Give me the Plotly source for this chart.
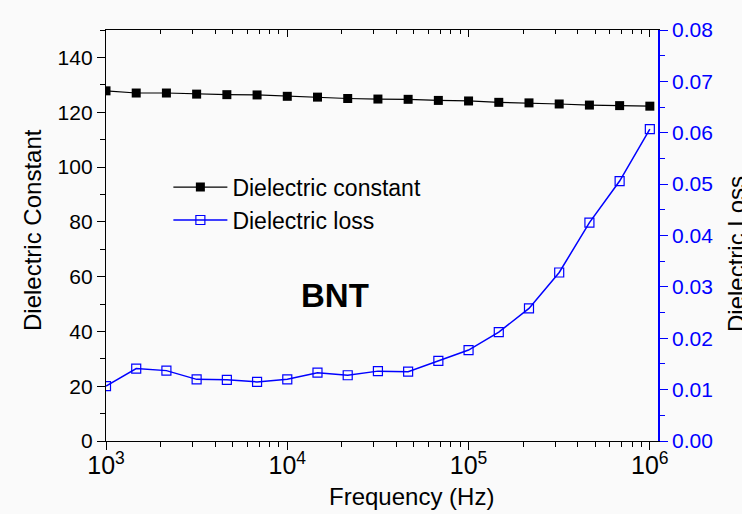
import plotly.graph_objects as go

# ---- data ----
freq_hz = [1000, 1468, 2154, 3162, 4642, 6813, 10000, 14678, 21544, 31623,
           46416, 68129, 100000, 146780, 215440, 316230, 464160, 681290, 1000000]
dielectric_constant = [127.8, 127.0, 127.0, 126.6, 126.4, 126.3, 125.8, 125.5, 125.0, 124.8,
                       124.7, 124.3, 124.1, 123.6, 123.4, 123.0, 122.6, 122.4, 122.2]
dielectric_loss = [0.0107, 0.0141, 0.0137, 0.0120, 0.0119, 0.0115, 0.0120, 0.0133, 0.0128, 0.0136,
                   0.0135, 0.0156, 0.0177, 0.0212, 0.0258, 0.0328, 0.0425, 0.0506, 0.0607]

x_title = "Frequency (Hz)"
y1_title = "Dielectric Constant"
y2_title = "Dielectric Loss"
sample_label = "BNT"

FONT = "Arial, Liberation Sans, sans-serif"
BLUE = "#0000ff"
BG = "#fafafa"

fig = go.Figure()
fig.add_trace(go.Scatter(
    x=freq_hz, y=dielectric_constant, name="Dielectric constant",
    mode="lines+markers", line=dict(color="black", width=1.2),
    marker=dict(symbol="square", size=9, color="black"),
    xaxis="x", yaxis="y"))
fig.add_trace(go.Scatter(
    x=freq_hz, y=dielectric_loss, name="Dielectric loss",
    mode="lines+markers", line=dict(color=BLUE, width=1.5),
    marker=dict(symbol="square-open", size=9, color=BLUE, line=dict(width=1.2)),
    xaxis="x", yaxis="y2"))
# trace that activates the top (mirror) axis; drawn invisibly
fig.add_trace(go.Scatter(x=freq_hz, y=dielectric_constant, mode="lines",
                         line=dict(color="rgba(0,0,0,0)"), showlegend=False, hoverinfo="skip",
                         xaxis="x2", yaxis="y"))

xrange = [3, 6.045]
tk = dict(tickwidth=1.4, tickcolor="black")
fig.update_layout(
    width=742, height=514,
    margin=dict(l=106, r=84, t=30, b=73, autoexpand=False),
    paper_bgcolor=BG, plot_bgcolor=BG,
    font=dict(family=FONT, size=21, color="black"),
    showlegend=True,
    legend=dict(x=0.113, y=0.67, xanchor="left", yanchor="top",
                bgcolor="rgba(0,0,0,0)", font=dict(size=23), itemwidth=54,
                tracegroupgap=0),
    xaxis=dict(type="log", range=xrange, dtick=1, exponentformat="power", automargin=False,
               tickfont=dict(size=20), ticklabelstandoff=-5,
               showline=True, linecolor="black", linewidth=1.3,
               ticks="outside", ticklen=8, **tk,
               minor=dict(ticks="outside", ticklen=5, showgrid=False, **tk),
               showgrid=False, zeroline=False),
    xaxis2=dict(type="log", range=xrange, dtick=1, overlaying="x", side="top", anchor="y",
                automargin=False,
                showline=True, linecolor="black", linewidth=1.3,
                ticks="inside", ticklen=7, **tk,
                minor=dict(ticks="inside", ticklen=4, showgrid=False, **tk),
                showticklabels=False, showgrid=False, zeroline=False),
    yaxis=dict(range=[0, 150], dtick=20, tick0=0, automargin=False,
               showline=True, linecolor="black", linewidth=1.3,
               ticks="outside", ticklen=8, **tk,
               minor=dict(ticks="outside", ticklen=5, dtick=10, tick0=0, showgrid=False, **tk),
               showgrid=False, zeroline=False),
    yaxis2=dict(range=[0, 0.08], dtick=0.01, tick0=0, overlaying="y", side="right", anchor="x",
                tickformat=".2f", automargin=False,
                showline=True, linecolor=BLUE, linewidth=1.6,
                ticks="outside", ticklen=8, tickwidth=1.4, tickcolor=BLUE,
                minor=dict(ticks="outside", ticklen=5, dtick=0.005, tick0=0, tickwidth=1.4,
                           tickcolor=BLUE, showgrid=False),
                tickfont=dict(color=BLUE),
                showgrid=False, zeroline=False),
    annotations=[
        dict(text=x_title, xref="paper", yref="paper", x=(411 - 106) / 552, y=(441 - 496) / 411,
             xanchor="center", yanchor="middle", showarrow=False,
             font=dict(size=24)),
        dict(text=y1_title, xref="paper", yref="paper", x=(33 - 106) / 552, y=(441 - 230) / 411,
             xanchor="center", yanchor="middle", textangle=-90, showarrow=False,
             font=dict(size=24)),
        dict(text=y2_title, xref="paper", yref="paper", x=(736 - 106) / 552, y=(441 - 254) / 411,
             xanchor="center", yanchor="middle", textangle=-90, showarrow=False,
             font=dict(size=24)),
        dict(text="<b>" + sample_label + "</b>", xref="paper", yref="paper",
             x=(335 - 106) / 552, y=(441 - 295) / 411,
             xanchor="center", yanchor="middle", showarrow=False,
             font=dict(size=33)),
    ],
)

fig.write_html("out.html")
